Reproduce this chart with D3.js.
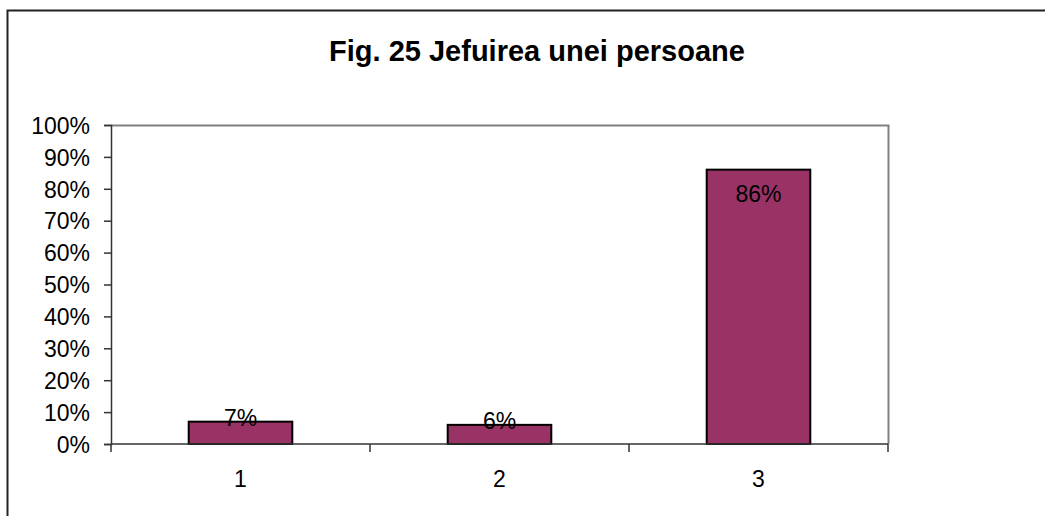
<!DOCTYPE html>
<html>
<head>
<meta charset="utf-8">
<script src="https://cdn.jsdelivr.net/npm/d3@7"></script>
<style>
  body { margin: 0; background: #fff; }
  text { font-family: Arial, "Liberation Sans", sans-serif; fill: #000; }
</style>
</head>
<body>
<div id="chart"></div>
<script>
(function () {

  // Data
  const categories = ["1", "2", "3"]
  const values = [0.07, 0.06, 0.86]
  const yTicks = [0, 0.1, 0.2, 0.3, 0.4, 0.5, 0.6, 0.7, 0.8, 0.9, 1]
  const title = "Fig. 25 Jefuirea unei persoane"

  const W = 1045, H = 516
  const margin = { top: 125, right: 157, bottom: 72, left: 111 }
  const width = W - margin.left - margin.right
  const height = H - margin.top - margin.bottom

  const svg = d3.select("#chart").append("svg")
    .attr("width", W)
    .attr("height", H)

  // Outer frame (top + left visible)
  svg.append("path")
    .attr("d", "M7.5," + H + " V10.5 H" + W)
    .attr("fill", "none")
    .attr("stroke", "#222")
    .attr("stroke-width", 2)

  // Title
  svg.append("text")
    .attr("x", 537)
    .attr("y", 61)
    .attr("text-anchor", "middle")
    .style("font-size", "29px")
    .style("font-weight", "bold")
    .text(title)

  const g = svg.append("g")
    .attr("transform", "translate(" + margin.left + "," + margin.top + ")")

  const xScale = d3.scaleBand()
    .domain(categories)
    .range([0, width])
    .paddingInner(0.6)
    .paddingOuter(0.3)

  const yScale = d3.scaleLinear()
    .domain([0, 1])
    .range([height, 0])

  // Plot area border (top + right)
  g.append("path")
    .attr("d", "M0,0.5 H" + (width + 0.5) + " V" + height)
    .attr("fill", "none")
    .attr("stroke", "#808080")
    .attr("stroke-width", 2)

  // Bars
  g.selectAll("rect.bar")
    .data(values)
    .join("rect")
    .attr("class", "bar")
    .attr("x", (d, i) => xScale(categories[i]))
    .attr("y", d => yScale(d))
    .attr("width", xScale.bandwidth())
    .attr("height", d => height - yScale(d))
    .attr("fill", "#993366")
    .attr("stroke", "#000")
    .attr("stroke-width", 2)

  // Y axis
  const yAxis = d3.axisLeft(yScale)
    .tickValues(yTicks)
    .tickFormat(d3.format(".0%"))
    .tickSize(7)
    .tickPadding(14)
  const gy = g.append("g").call(yAxis)
  gy.select(".domain").attr("stroke", "#333").attr("stroke-width", 1.5)
  gy.selectAll(".tick line").attr("stroke", "#333").attr("stroke-width", 1.5)
  gy.selectAll(".tick text")
    .style("font-size", "23px")
    .attr("dy", "0.36em")

  // X axis: ticks at category boundaries
  const step = xScale.step()
  const bounds = d3.range(categories.length + 1).map(i => i * step)
  g.append("line")
    .attr("x1", 0).attr("x2", width)
    .attr("y1", height).attr("y2", height)
    .attr("stroke", "#333").attr("stroke-width", 1.5)
  g.selectAll("line.xtick")
    .data(bounds)
    .join("line")
    .attr("class", "xtick")
    .attr("x1", d => d).attr("x2", d => d)
    .attr("y1", height).attr("y2", height + 8)
    .attr("stroke", "#333").attr("stroke-width", 1.5)
  g.selectAll("text.xlabel")
    .data(categories)
    .join("text")
    .attr("class", "xlabel")
    .attr("x", d => xScale(d) + xScale.bandwidth() / 2)
    .attr("y", height + 43)
    .attr("text-anchor", "middle")
    .style("font-size", "23px")
    .text(d => d)

  // Value labels
  g.selectAll("text.vlabel")
    .data(values)
    .join("text")
    .attr("class", "vlabel")
    .attr("x", (d, i) => xScale(categories[i]) + xScale.bandwidth() / 2)
    .attr("y", d => yScale(d) + (d > 0.5 ? 32 : 4))
    .attr("text-anchor", "middle")
    .style("font-size", "23px")
    .text(d => d3.format(".0%")(d))

})();
</script>
</body>
</html>
